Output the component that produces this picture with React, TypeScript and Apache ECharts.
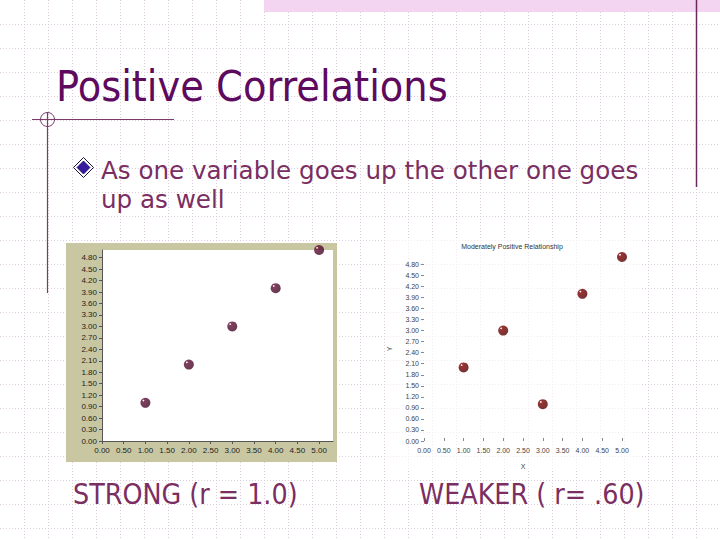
import React, { useEffect, useRef } from "react";
import * as echarts from "echarts";

const strongX = [1, 2, 3, 4, 5];
const strongY = [1, 2, 3, 4, 5];
const weakX = [1, 2, 3, 4, 5];
const weakY = [2, 3, 1, 4, 5];
const yTicks = [0, 0.3, 0.6, 0.9, 1.2, 1.5, 1.8, 2.1, 2.4, 2.7, 3.0, 3.3, 3.6, 3.9, 4.2, 4.5, 4.8];
const xTicks = [0, 0.5, 1, 1.5, 2, 2.5, 3, 3.5, 4, 4.5, 5];
const titleText = "Positive Correlations";
const bulletLines = ["As one variable goes up the other one goes", "up as well"];
const leftCaption = "STRONG (r = 1.0)";
const rightCaption = "WEAKER ( r= .60)";
const rightChartTitle = "Moderately Positive Relationship";
const xName = "X";
const yName = "Y";

const COND_FONT = "'DejaVu Sans Condensed', 'DejaVu Sans', sans-serif";
const BODY_FONT = "'DejaVu Sans', sans-serif";
const SMALL_FONT = "'Liberation Sans', Arial, sans-serif";

function ball(main: string, dark: string) {
  return new echarts.graphic.RadialGradient(0.3, 0.28, 0.8, [
    { offset: 0, color: "#ffffff" },
    { offset: 0.07, color: "#e8d0dc" },
    { offset: 0.16, color: main },
    { offset: 1, color: dark },
  ]);
}

export default function App() {
  const ref = useRef<HTMLDivElement>(null);
  useEffect(() => {
    if (!ref.current) return;
    const chart = echarts.init(ref.current, undefined, { renderer: "svg" });
    const bg: any[] = [];
    for (let x = 24; x < 720; x += 24) {
      bg.push({
        type: "line",
        silent: true,
        z: -100,
        shape: { x1: x + 0.5, y1: 0, x2: x + 0.5, y2: 540 },
        style: { stroke: "#dccbdc", lineDash: [1, 2], lineWidth: 1 },
      });
    }
    for (let y = 24; y < 540; y += 24) {
      bg.push({
        type: "line",
        silent: true,
        z: -100,
        shape: { x1: 0, y1: y + 0.5, x2: 720, y2: y + 0.5 },
        style: { stroke: "#dccbdc", lineDash: [1, 2], lineWidth: 1 },
      });
    }
    const deco: any[] = [
      { type: "rect", z: -90, shape: { x: 264, y: 0, width: 456, height: 12 }, style: { fill: "#f3d4f1" } },
      { type: "line", z: -80, shape: { x1: 696.5, y1: 0, x2: 696.5, y2: 187 }, style: { stroke: "#6b2a5e", lineWidth: 1.5 } },
      { type: "line", z: -80, shape: { x1: 32, y1: 119.5, x2: 174, y2: 119.5 }, style: { stroke: "#7a3a6a", lineWidth: 1.2 } },
      { type: "line", z: -80, shape: { x1: 47.5, y1: 112, x2: 47.5, y2: 293 }, style: { stroke: "#7a3a6a", lineWidth: 1.2 } },
      { type: "circle", z: -80, shape: { cx: 47.5, cy: 119.5, r: 7 }, style: { stroke: "#7a3a6a", fill: "none", lineWidth: 1 } },
      {
        type: "text", z: 10, x: 56, y: 86,
        style: { text: titleText, fontSize: 42.7, fontFamily: COND_FONT, fill: "#5e0a5e", textVerticalAlign: "middle" },
      },
      {
        type: "polygon", z: 10,
        shape: { points: [[83.5, 157.5], [93.5, 167.5], [83.5, 177.5], [73.5, 167.5]] },
        style: { fill: "#ffffff", stroke: "#1a1040", lineWidth: 1 },
      },
      {
        type: "polygon", z: 11,
        shape: { points: [[83.5, 161], [90, 167.5], [83.5, 174], [77, 167.5]] },
        style: { fill: "#3a1aa0", stroke: "#1a0a60", lineWidth: 0.8 },
      },
      {
        type: "text", z: 10, x: 101, y: 170,
        style: { text: bulletLines[0], fontSize: 24.6, fontFamily: BODY_FONT, fill: "#7a2e62", textVerticalAlign: "middle" },
      },
      {
        type: "text", z: 10, x: 101, y: 199,
        style: { text: bulletLines[1], fontSize: 24.6, fontFamily: BODY_FONT, fill: "#7a2e62", textVerticalAlign: "middle" },
      },
      {
        type: "text", z: 10, x: 73, y: 494,
        style: { text: leftCaption, fontSize: 28.3, fontFamily: COND_FONT, fill: "#7a2e62", textVerticalAlign: "middle" },
      },
      {
        type: "text", z: 10, x: 419, y: 494,
        style: { text: rightCaption, fontSize: 28.3, fontFamily: COND_FONT, fill: "#7a2e62", textVerticalAlign: "middle" },
      },
      { type: "rect", z: -70, shape: { x: 66, y: 243, width: 271, height: 219 }, style: { fill: "#c9c7a2" } },
      { type: "rect", z: -70, shape: { x: 386, y: 238, width: 256, height: 232 }, style: { fill: "#ffffff", opacity: 0.6 } },
      {
        type: "text", z: 10, x: 512, y: 246,
        style: { text: rightChartTitle, fontSize: 7, fontFamily: SMALL_FONT, fill: "#333", textAlign: "center", textVerticalAlign: "middle" },
      },
    ];

    const fmt = (v: number) => v.toFixed(2);

    const option: any = {
      animation: false,
      graphic: { elements: [...bg, ...deco] },
      grid: [
        { left: 102, top: 250, width: 231, height: 191, show: true, backgroundColor: "#ffffff", borderWidth: 0 },
        { left: 424, top: 257, width: 198, height: 184, show: false },
      ],
      xAxis: [
        {
          gridIndex: 0, type: "value", min: 0, max: 5.32,
          splitLine: { show: false },
          axisLine: { show: true, onZero: false, lineStyle: { color: "#555", width: 1 } },
          axisTick: { show: true, length: 3, customValues: xTicks, lineStyle: { color: "#555" } },
          axisLabel: { customValues: xTicks, formatter: fmt, fontSize: 8, fontFamily: SMALL_FONT, color: "#222", margin: 5 },
        },
        {
          gridIndex: 1, type: "value", min: 0, max: 5,
          name: xName, nameLocation: "middle", nameGap: 22,
          nameTextStyle: { fontSize: 7, fontFamily: SMALL_FONT, color: "#444" },
          splitLine: { show: false },
          axisLine: { show: false, onZero: false },
          axisTick: { show: true, inside: true, length: 3, customValues: xTicks, lineStyle: { color: "#888" } },
          axisLabel: { customValues: xTicks, formatter: fmt, fontSize: 7, fontFamily: SMALL_FONT, color: "#444", margin: 6 },
        },
      ],
      yAxis: [
        {
          gridIndex: 0, type: "value", min: 0, max: 5,
          splitLine: { show: false },
          axisLine: { show: true, onZero: false, lineStyle: { color: "#555", width: 1 } },
          axisTick: { show: true, length: 3, customValues: yTicks, lineStyle: { color: "#555" } },
          axisLabel: { customValues: yTicks, formatter: fmt, fontSize: 8, fontFamily: SMALL_FONT, color: "#222", margin: 5 },
        },
        {
          gridIndex: 1, type: "value", min: 0, max: 5,
          name: yName, nameLocation: "middle", nameGap: 31, nameRotate: 90,
          nameTextStyle: { fontSize: 7, fontFamily: SMALL_FONT, color: "#444" },
          splitLine: { show: false },
          axisLine: { show: false, onZero: false },
          axisTick: { show: true, length: 3, customValues: yTicks, lineStyle: { color: "#888" } },
          axisLabel: { customValues: yTicks, formatter: fmt, fontSize: 7, fontFamily: SMALL_FONT, color: "#444", margin: 5 },
        },
      ],
      series: [
        {
          type: "scatter", xAxisIndex: 0, yAxisIndex: 0, symbolSize: 10, clip: false,
          data: strongX.map((x, i) => [x, strongY[i]]),
          itemStyle: { color: ball("#601038", "#420624") },
        },
        {
          type: "scatter", xAxisIndex: 1, yAxisIndex: 1, symbolSize: 10, clip: false,
          data: weakX.map((x, i) => [x, weakY[i]]),
          itemStyle: { color: ball("#800000", "#500000") },
        },
      ],
    };
    chart.setOption(option);
    return () => chart.dispose();
  }, []);
  return (
    <div
      ref={ref}
      style={{ position: "fixed", left: 0, top: 0, width: 720, height: 540, background: "#ffffff" }}
    />
  );
}
